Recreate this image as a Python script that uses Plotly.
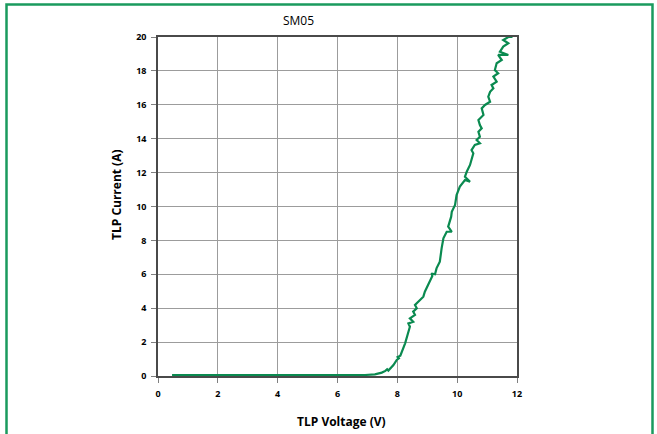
import plotly.graph_objects as go

# TLP curve (V, A)
voltage = [0.47, 2.0, 4.0, 6.0, 6.92, 7.25, 7.48, 7.60, 7.66, 7.70, 7.87, 7.98, 8.05, 8.01, 8.10,
           8.26, 8.37, 8.42, 8.37, 8.53, 8.42, 8.59, 8.53, 8.65, 8.59, 8.70, 8.87,
           8.92, 9.09, 9.17, 9.14, 9.26, 9.31, 9.42, 9.48, 9.54, 9.65, 9.82, 9.70, 9.76,
           9.80, 9.82, 9.93, 9.98, 10.09, 10.26, 10.43, 10.26, 10.32, 10.43, 10.48, 10.54,
           10.48, 10.59, 10.76, 10.65, 10.76, 10.71, 10.82, 10.76, 10.71, 10.88, 10.82,
           10.93, 11.10, 11.04, 11.10, 11.21, 11.15, 11.32, 11.21, 11.37, 11.26, 11.32,
           11.49, 11.37, 11.71, 11.43, 11.54, 11.71, 11.54, 11.71, 11.85]
current = [0.05, 0.05, 0.05, 0.05, 0.06, 0.10, 0.20, 0.30, 0.40, 0.32, 0.65, 0.95, 1.04, 1.12, 1.20,
           1.93, 2.52, 2.91, 3.10, 3.20, 3.40, 3.60, 3.80, 4.00, 4.19, 4.38, 4.68,
           4.97, 5.66, 5.90, 6.05, 6.00, 6.35, 6.74, 7.53, 8.12, 8.51, 8.51, 8.81, 9.10,
           9.40, 9.69, 10.09, 10.68, 11.17, 11.56, 11.46, 11.76, 12.05, 12.45, 12.84, 13.14,
           13.33, 13.63, 13.73, 13.92, 14.12, 14.41, 14.61, 14.81, 15.10, 15.40, 15.79,
           15.99, 16.18, 16.48, 16.77, 16.97, 17.17, 17.36, 17.66, 17.86, 18.05, 18.45,
           18.64, 18.94, 18.94, 19.13, 19.43, 19.63, 19.82, 20.00, 20.00]

x_ticks = [0, 2, 4, 6, 8, 10, 12]
y_ticks = [0, 2, 4, 6, 8, 10, 12, 14, 16, 18, 20]

title_text = "SM05"
x_title = "TLP Voltage (V)"
y_title = "TLP Current (A)"

green = "#0a8a50"
font_family = "Open Sans, Liberation Sans, sans-serif"

fig = go.Figure()
fig.add_trace(go.Scatter(x=voltage, y=current, mode="lines",
                         line=dict(color=green, width=2.2), showlegend=False,
                         cliponaxis=False))

L, R, T, B = 158, 140, 37, 58
W, H = 657, 434
pw, ph = W - L - R, H - T - B

def px_x(p):
    return (p - L) / pw

def px_y(p):
    return (H - B - p) / ph

axis_common = dict(showgrid=True, gridcolor="#9c9c9c", gridwidth=1,
                   showline=True, linecolor="#4a4a4a", linewidth=1.5, mirror=True,
                   ticks="outside", ticklen=5, tickcolor="#808080", zeroline=False,
                   ticklabelstandoff=3,
                   tickfont=dict(family=font_family, size=9, color="#000000"))

fig.update_layout(
    width=W, height=H,
    margin=dict(l=L, r=R, t=T, b=B, pad=0),
    paper_bgcolor="white", plot_bgcolor="white",
    xaxis=dict(range=[0, 12], tickvals=x_ticks,
               ticktext=["<b>%d</b>" % v for v in x_ticks], **axis_common),
    yaxis=dict(range=[0, 20], tickvals=y_ticks,
               ticktext=["<b>%d</b>" % v for v in y_ticks], **axis_common),
    annotations=[
        dict(text=title_text, xref="paper", yref="paper", x=px_x(298), y=px_y(20),
             xanchor="center", yanchor="middle", showarrow=False,
             font=dict(family=font_family, size=12, color="#000000")),
        dict(text="<b>" + x_title + "</b>", xref="paper", yref="paper", x=px_x(341), y=px_y(422),
             xanchor="center", yanchor="middle", showarrow=False,
             font=dict(family=font_family, size=12, color="#000000")),
        dict(text="<b>" + y_title + "</b>", xref="paper", yref="paper", x=px_x(116), y=px_y(195),
             xanchor="center", yanchor="middle", showarrow=False, textangle=-90,
             font=dict(family=font_family, size=12, color="#000000")),
    ],
    shapes=[
        dict(type="rect", xref="paper", yref="paper",
             x0=px_x(6.5), x1=px_x(652.5), y0=px_y(445), y1=px_y(4.5),
             line=dict(color="#1a9a5e", width=2.5), fillcolor="rgba(0,0,0,0)", layer="below"),
    ],
)

fig.write_html("out.html", config={"displayModeBar": False},
               post_script="document.body.style.margin='0';document.body.style.overflow='hidden';")
